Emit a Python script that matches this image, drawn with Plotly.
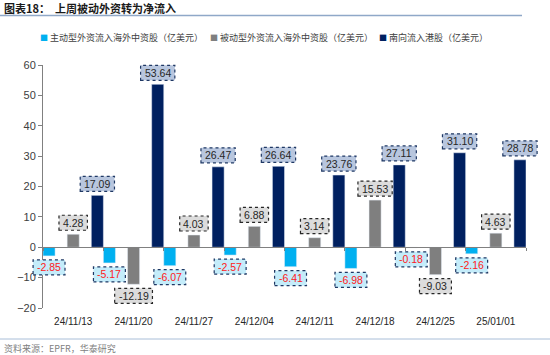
import plotly.graph_objects as go

dates = ["24/11/13", "24/11/20", "24/11/27", "24/12/04", "24/12/11", "24/12/18", "24/12/25", "25/01/01"]
active = [-2.85, -5.17, -6.07, -2.57, -6.41, -6.98, -0.18, -2.16]
passive = [4.28, -12.19, 4.03, 6.88, 3.14, 15.53, -9.03, 4.63]
south = [17.09, 53.64, 26.47, 26.64, 23.76, 27.11, 31.10, 28.78]

names = ["主动型外资流入海外中资股（亿美元）", "被动型外资流入海外中资股（亿美元）", "南向流入港股（亿美元）"]
colors = ["#00B0F0", "#7F7F7F", "#002060"]
label_fill = ["#C4ECFA", "#DCDCDC", "#B8C6DE"]
label_border = ["#1F3864", "#262626", "#1F3864"]
label_text = ["#FF2020", "#262626", "#262626"]

W, H = 550, 355
L, R, T, B = 43, 24, 65, 47
PW, PH = W - L - R, H - T - B
FONT = "Liberation Sans, Arial, sans-serif"
CJK = "Noto Sans CJK SC, sans-serif"
YMIN, YMAX = -20, 60
XMIN, XMAX = -0.5, len(dates) - 0.5


def paper(xp, yp):
    return (xp - L) / PW, (H - B - yp) / PH


def text_w(s, size):
    w = 0
    for ch in s:
        if ch.isdigit():
            w += 0.556
        elif ch == ".":
            w += 0.278
        elif ch == "-":
            w += 0.333
        else:
            w += 0.556
    return w * size


bar_w = 0.2
offsets = [-0.5, -0.1, 0.3]
series = [active, passive, south]
idx = list(range(len(dates)))

fig = go.Figure()
shapes = []
annotations = []
LS = 10.5
for s, vals in enumerate(series):
    fig.add_trace(go.Bar(x=idx, y=vals, name=names[s], marker_color=colors[s],
                         offset=offsets[s], width=bar_w, showlegend=False))
    for i, v in enumerate(vals):
        xc = i + offsets[s] + bar_w / 2
        txt = f"{v:.2f}"
        bw = text_w(txt, LS) + 8
        bh = 15
        gap = 4
        if v >= 0:
            y0, y1 = gap, gap + bh
        else:
            y0, y1 = -gap - bh, -gap
        xa = (xc - XMIN) / (XMAX - XMIN)
        ya = (v - YMIN) / (YMAX - YMIN)
        shapes.append(dict(type="rect", xref="paper", yref="paper", xsizemode="pixel", ysizemode="pixel",
                           xanchor=xa, yanchor=ya, x0=-bw / 2, x1=bw / 2, y0=y0, y1=y1,
                           fillcolor=label_fill[s], line=dict(color=label_border[s], width=1.2, dash="dot"),
                           layer="above"))
        annotations.append(dict(x=xc, y=v, xref="x", yref="y", text=txt, showarrow=False,
                                yshift=(y0 + y1) / 2, font=dict(family=FONT, size=LS, color=label_text[s]),
                                xanchor="center", yanchor="middle"))

# title
tx, ty = paper(2, 8)
annotations.append(dict(x=tx, y=ty, xref="paper", yref="paper", xanchor="left", yanchor="middle",
                        text="<b>图表18：  上周被动外资转为净流入</b>", showarrow=False,
                        font=dict(family=CJK, size=11, color="#1A1A1A")))
lx0, ly = paper(0, 15.5)
lx1, _ = paper(522, 15.5)
shapes.append(dict(type="line", xref="paper", yref="paper", x0=lx0, x1=lx1, y0=ly, y1=ly,
                   line=dict(color="#8FA8C8", width=1.5)))
# bottom line
bx0, by = paper(0, 339)
bx1, _ = paper(550, 339)
shapes.append(dict(type="line", xref="paper", yref="paper", x0=bx0, x1=bx1, y0=by, y1=by,
                   line=dict(color="#A9BED8", width=1)))
# source
sx, sy = paper(2, 348)
annotations.append(dict(x=sx, y=sy, xref="paper", yref="paper", xanchor="left", yanchor="middle",
                        text="资料来源：EPFR，华泰研究", showarrow=False,
                        font=dict(family=CJK, size=9, color="#7F7F7F")))
# legend
leg_x = [38, 208, 377]
for s in range(3):
    gx, gy = paper(leg_x[s], 38)
    annotations.append(dict(x=gx, y=gy, xref="paper", yref="paper", xanchor="left", yanchor="middle",
                            text=f"<span style='color:{colors[s]};font-size:8px'>■</span> {names[s]}",
                            showarrow=False, font=dict(family=CJK, size=9, color="#404040")))

fig.update_layout(
    width=W, height=H,
    margin=dict(l=L, r=R, t=T, b=B),
    paper_bgcolor="white", plot_bgcolor="white",
    barmode="overlay",
    shapes=shapes, annotations=annotations,
    xaxis=dict(range=[XMIN, XMAX], tickvals=idx, ticktext=dates, showgrid=False,
               zeroline=False, showline=False, ticks="", ticklabelstandoff=6,
               tickfont=dict(family=FONT, size=10, color="#262626")),
    xaxis2=dict(overlaying="x", anchor="free", position=(0 - YMIN) / (YMAX - YMIN), range=[XMIN, XMAX],
                tickvals=[i - 0.5 for i in range(len(dates) + 1)], showticklabels=False,
                showline=True, linecolor="#808080", linewidth=1, ticks="outside", ticklen=3,
                tickcolor="#808080", showgrid=False, zeroline=False),
    yaxis=dict(range=[YMIN, YMAX], dtick=10, showgrid=False, zeroline=False, showline=True,
               linecolor="#808080", linewidth=1, ticks="outside", ticklen=4, tickcolor="#808080",
               tickfont=dict(family=FONT, size=11, color="#404040")),
)
fig.add_trace(go.Scatter(x=[None], y=[None], xaxis="x2", showlegend=False, hoverinfo="skip"))

fig.write_html("out.html", config={"displayModeBar": False},
               post_script="document.body.style.margin='0';document.body.style.padding='0';")
